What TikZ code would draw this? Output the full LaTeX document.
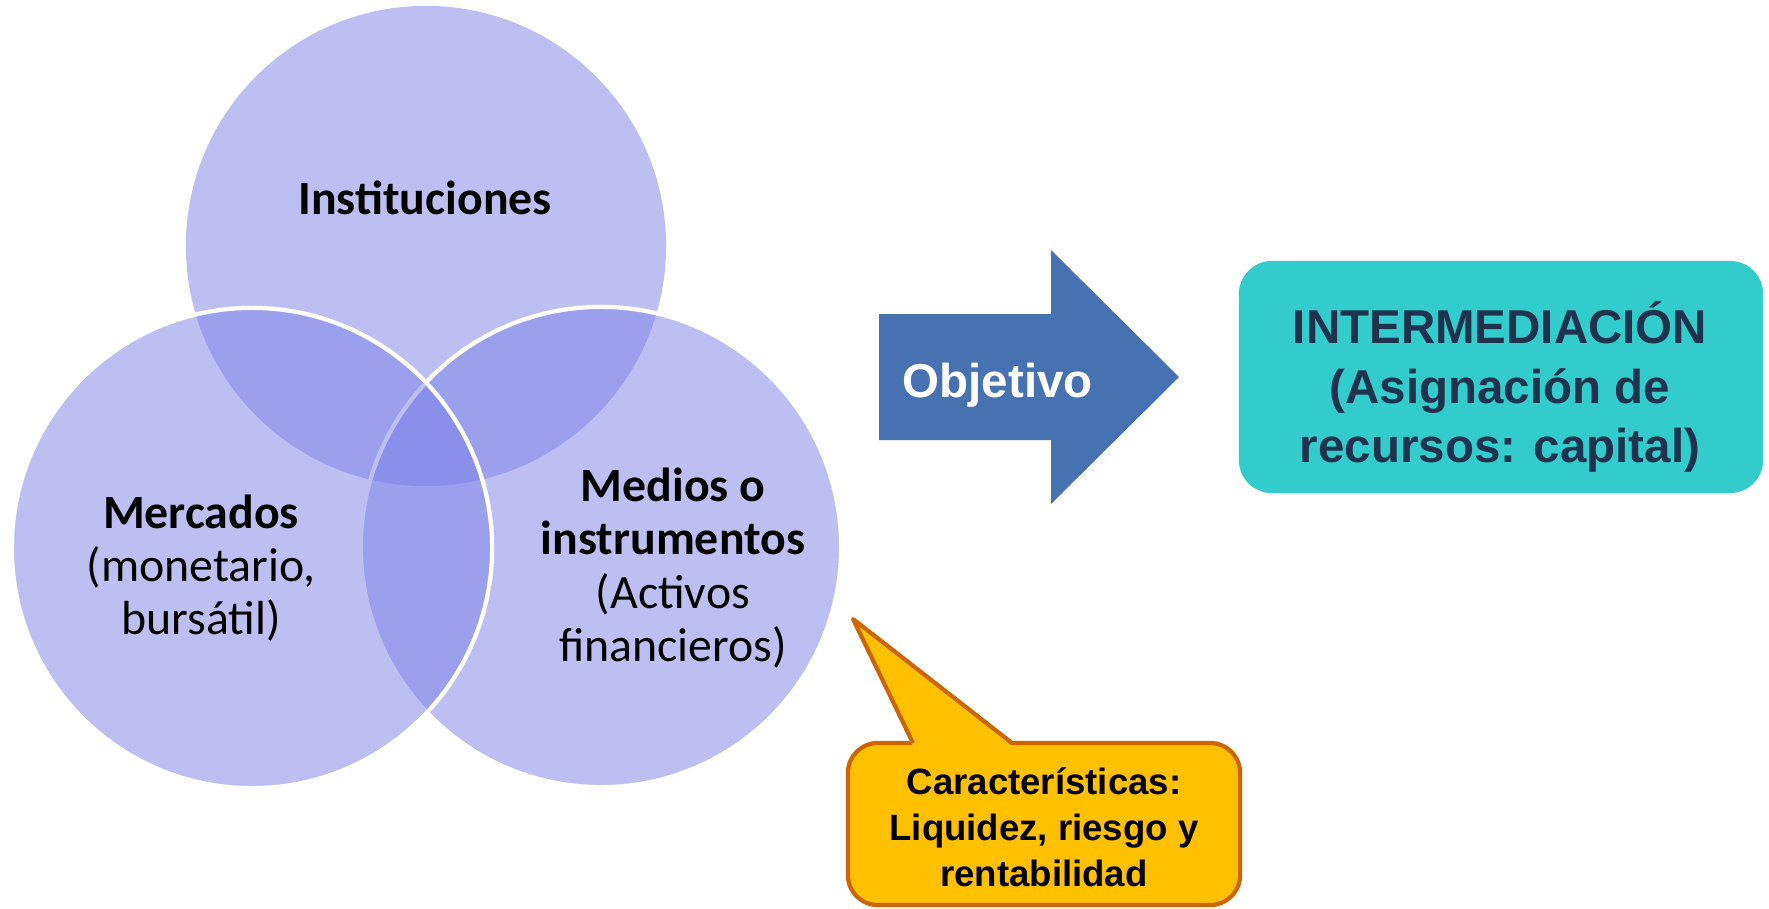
\documentclass[tikz,border=0pt]{standalone}
\usepackage{fontspec}
\setmainfont{Carlito}
\newfontfamily\arialfont{Liberation Sans}
\usepackage{xcolor}
\usepackage{tikz}
\usetikzlibrary{positioning}

\definecolor{vennblue}{RGB}{124,128,230}
\definecolor{arrowblue}{RGB}{70,114,178}
\definecolor{tealbox}{RGB}{51,204,204}
\definecolor{navytext}{RGB}{31,50,80}
\definecolor{callgold}{RGB}{255,192,0}
\definecolor{callline}{RGB}{204,102,0}

\begin{document}
\begin{tikzpicture}[x=0.01cm, y=-0.01cm,
    venn/.style={circle, fill=vennblue, fill opacity=0.5, minimum size=4.8cm, inner sep=0pt},
    vennline/.style={draw=white, draw opacity=1, line width=1.2pt},
    circtext/.style={align=center, inner sep=0pt, font=\fontsize{13.6}{15.2}\selectfont},
    goalbox/.style={rectangle, rounded corners=0.33cm, fill=tealbox, minimum width=5.24cm, minimum height=2.32cm},
    goaltext/.style={align=center, inner sep=0pt, text=navytext, font=\arialfont\bfseries\fontsize{13.5}{16.9}\selectfont},
    callbox/.style={rectangle, rounded corners=0.3cm, fill=callgold, draw=callline, line width=1.2pt,
        minimum width=3.92cm, minimum height=1.62cm},
    calltext/.style={align=center, inner sep=0pt, font=\arialfont\bfseries\fontsize{10.4}{13.1}\selectfont}]
    \useasboundingbox (0,0) rectangle (1769,908);

    % Venn circles
    \node[venn] (inst) at (426,246) {};
    \node[venn, vennline] (medios) at (601,547) {};
    \node[venn, vennline] (merc) at (252,548) {};

    % Circle labels
    \node[circtext] (instlbl) at (425,198) {\textbf{Instituciones}};
    \node[circtext] (merclbl) at (201,568) {\textbf{Mercados}\\(monetario,\\bursátil)};
    \node[circtext] (medioslbl) at (673,568) {\textbf{Medios o}\\\textbf{instrumentos}\\(Activos\\financieros)};

    % Arrow
    \fill[arrowblue] (879,314) -- (1051,314) -- (1051,250) -- (1179,377)
        -- (1051,504) -- (1051,440) -- (879,440) -- cycle;
    \node[anchor=west, inner sep=0pt, text=white, font=\arialfont\bfseries\fontsize{13.5}{16}\selectfont]
        (obj) at (902,385) {Objetivo};

    % Goal
    \node[goalbox] (goal) at (1501,377) {};
    \node[goaltext] (goallbl) at (1500,387) {INTERMEDIACIÓN\\(Asignación de\\recursos: capital)};

    % Callout
    \node[callbox] (calls) at (1044,824) {};
    \coordinate (tip) at (853,619);
    \coordinate (basel) at (913,743);
    \coordinate (baser) at (1012,743);
    \fill[callgold] ([yshift=-0.03cm]basel) -- (tip) -- ([yshift=-0.03cm]baser) -- cycle;
    \draw[callline, line width=1.2pt, line join=round] (basel) -- (tip) -- (baser);
    \node[calltext] (callslbl) at (1044,827) {Características:\\Liquidez, riesgo y\\rentabilidad};
\end{tikzpicture}
\end{document}
